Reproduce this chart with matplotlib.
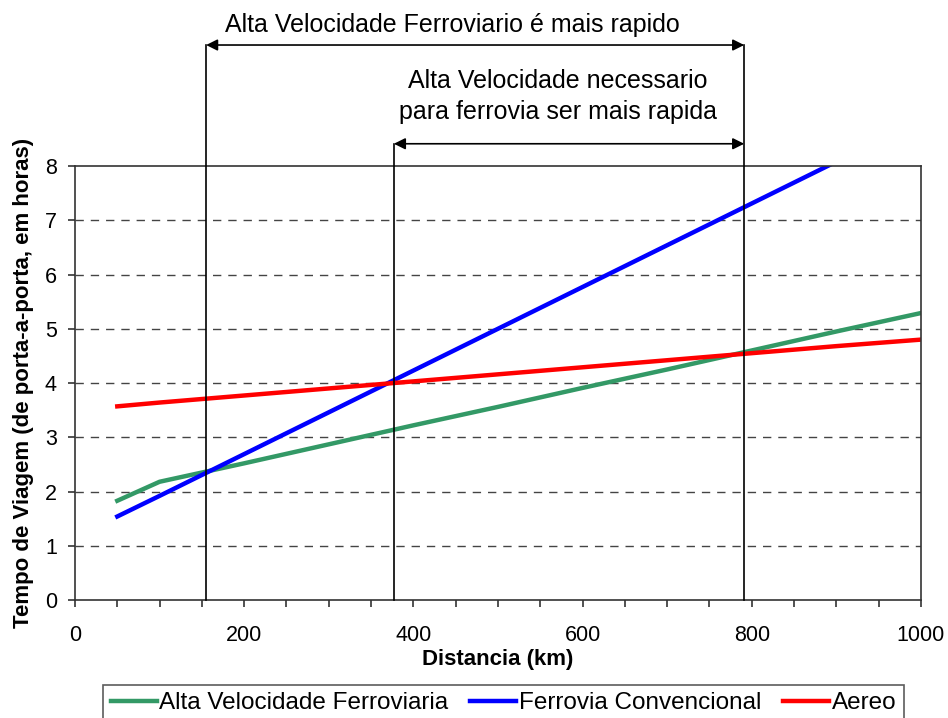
import matplotlib.pyplot as plt
from matplotlib.ticker import MultipleLocator

plt.rcParams["font.family"] = ["Liberation Sans", "DejaVu Sans"]

# travel time (door to door, hours) against distance (km)
distancia = [50, 100, 200, 300, 400, 500, 600, 700, 800, 900, 1000]
alta_velocidade = [1.83, 2.18, 2.52, 2.87, 3.22, 3.56, 3.91, 4.25, 4.60, 4.95, 5.29]
convencional = [1.54, 1.92, 2.69, 3.46, 4.23, 5.00, 5.77, 6.54, 7.31, 8.08, 8.85]
aereo = [3.57, 3.64, 3.77, 3.90, 4.03, 4.16, 4.29, 4.42, 4.55, 4.68, 4.80]

# crossover distances (km) used for the range brackets
limites = [155, 377, 791]

fig = plt.figure(figsize=(9.48, 7.18), dpi=100)
ax = fig.add_axes([0.0791, 0.1643, 0.8924, 0.6045])

ax.plot(distancia, alta_velocidade, color="#339966", lw=3.2, label="Alta Velocidade Ferroviaria")
ax.plot(distancia, convencional, color="#0000FF", lw=3.2, label="Ferrovia Convencional")
ax.plot(distancia, aereo, color="#FF0000", lw=3.2, label="Aereo")

ax.set_xlim(0, 1000)
ax.set_ylim(0, 8)
ax.xaxis.set_major_locator(MultipleLocator(200))
ax.xaxis.set_minor_locator(MultipleLocator(50))
ax.yaxis.set_major_locator(MultipleLocator(1))
ax.tick_params(axis="both", which="both", direction="out", length=5, width=1.2, labelsize=15.5, color="#333333")
ax.tick_params(axis="x", pad=13)
ax.tick_params(axis="y", pad=8)
for s in ax.spines.values():
    s.set_color("#333333")
    s.set_linewidth(1.2)

for y in range(1, 8):
    ax.axhline(y, color="#444444", lw=1, ls=(0, (6, 5)), zorder=0)

ax.set_xlabel("Distancia (km)", fontsize=16, fontweight="bold", labelpad=2)
ax.set_ylabel("Tempo de Viagem (de porta-a-porta, em horas)", fontsize=16, fontweight="bold", labelpad=8)

# range brackets above the plot
y_top, y_mid = 10.23, 8.41
ax.plot([limites[0], limites[0]], [0, y_top], color="black", lw=1.2, clip_on=False, zorder=5)
ax.plot([limites[1], limites[1]], [0, y_mid], color="black", lw=1.2, clip_on=False, zorder=5)
ax.plot([limites[2], limites[2]], [0, y_top], color="black", lw=1.2, clip_on=False, zorder=5)

seta = dict(arrowstyle="<|-|>", color="black", lw=1.2, mutation_scale=17, shrinkA=0, shrinkB=0)
ax.annotate("", xy=(limites[0], y_top), xytext=(limites[2], y_top),
            arrowprops=seta, annotation_clip=False)
ax.annotate("", xy=(limites[1], y_mid), xytext=(limites[2], y_mid),
            arrowprops=seta, annotation_clip=False)

ax.text(446, 10.6, "Alta Velocidade Ferroviario é mais rapido", fontsize=18,
        ha="center", va="center", clip_on=False)
ax.text(571, 9.28, "Alta Velocidade necessario\npara ferrovia ser mais rapida", fontsize=18,
        ha="center", va="center", linespacing=1.38, clip_on=False)

leg = fig.legend(loc="upper center", bbox_to_anchor=(0.531, 0.046), borderaxespad=0, ncol=3,
                 fontsize=17.5, frameon=True, fancybox=False, edgecolor="#333333", handlelength=1.9,
                 handletextpad=0.1, columnspacing=0.9, borderpad=0.3)
leg.get_frame().set_linewidth(1.2)

fig.savefig("out.png", dpi=100)
